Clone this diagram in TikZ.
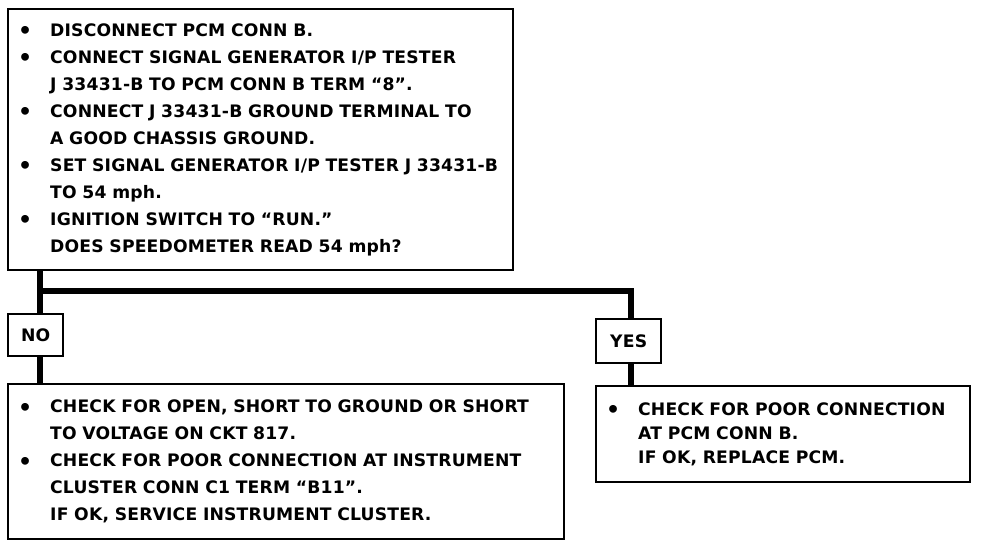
\documentclass[tikz,border=0pt]{standalone}
\usepackage{fontspec}
\setmainfont{DejaVu Sans}
\newfontfamily\chartfont[LetterSpace=1]{DejaVu Sans}
\newcommand{\blt}{\makebox[17pt][l]{\hspace*{1pt}\raisebox{-1.3pt}{\fontsize{11}{11}\selectfont\textbullet}}}
\newcommand{\indt}{\hspace*{17pt}}
\begin{document}
\begin{tikzpicture}[
  x=0.5pt, y=-0.5pt,
  every node/.style={font=\chartfont\bfseries\fontsize{8.6}{13.5}\selectfont},
  stepbox/.style={draw,line width=1.2pt,anchor=north west,align=left,inner xsep=4pt,inner ysep=0pt},
  tag/.style={draw,line width=1.2pt,anchor=north west,align=center,inner sep=0pt},
  conn/.style={line width=3.2pt,line join=miter}
]
\useasboundingbox (0,0) rectangle (992,542);
% question box
\node[stepbox,minimum width=252.5pt,minimum height=130.5pt,text width=244.5pt] (ask) at (7,8) {%
\blt DISCONNECT PCM CONN B.\\
\blt CONNECT SIGNAL GENERATOR I/P TESTER\\
\indt J~33431-B TO PCM CONN B TERM “8”.\\
\blt CONNECT J~33431-B GROUND TERMINAL TO\\
\indt A GOOD CHASSIS GROUND.\\
\blt SET SIGNAL GENERATOR I/P TESTER J~33431-B\\
\indt TO 54 mph.\\
\blt IGNITION SWITCH TO “RUN.”\\
\indt DOES SPEEDOMETER READ 54 mph?};
% answers
\node[tag,minimum width=27.5pt,minimum height=21pt] (no) at (7,313) {NO};
\node[tag,minimum width=32.5pt,minimum height=22pt] (yes) at (595,318) {YES};
% result boxes
\node[stepbox,minimum width=278pt,minimum height=77.5pt,text width=270pt] (fixno) at (7,383) {%
\blt CHECK FOR OPEN, SHORT TO GROUND OR SHORT\\
\indt TO VOLTAGE ON CKT 817.\\
\blt CHECK FOR POOR CONNECTION AT INSTRUMENT\\
\indt CLUSTER CONN C1 TERM “B11”.\\
\indt IF OK, SERVICE INSTRUMENT CLUSTER.};
\node[stepbox,minimum width=187pt,minimum height=48pt,text width=179pt,
  font=\chartfont\bfseries\fontsize{8.6}{12}\selectfont] (fixyes) at (595,385) {%
\blt CHECK FOR POOR CONNECTION\\
\indt AT PCM CONN B.\\
\indt IF OK, REPLACE PCM.};
% connectors
\coordinate (jl) at (40,291);
\coordinate (jr) at (631,291);
\draw[conn] (jl |- ask.south) -- (jl |- no.north);
\draw[conn] (jl) -- (jr) -- (jr |- yes.north);
\draw[conn] (jl |- no.south) -- (jl |- fixno.north);
\draw[conn] (jr |- yes.south) -- (jr |- fixyes.north);
\end{tikzpicture}
\end{document}
